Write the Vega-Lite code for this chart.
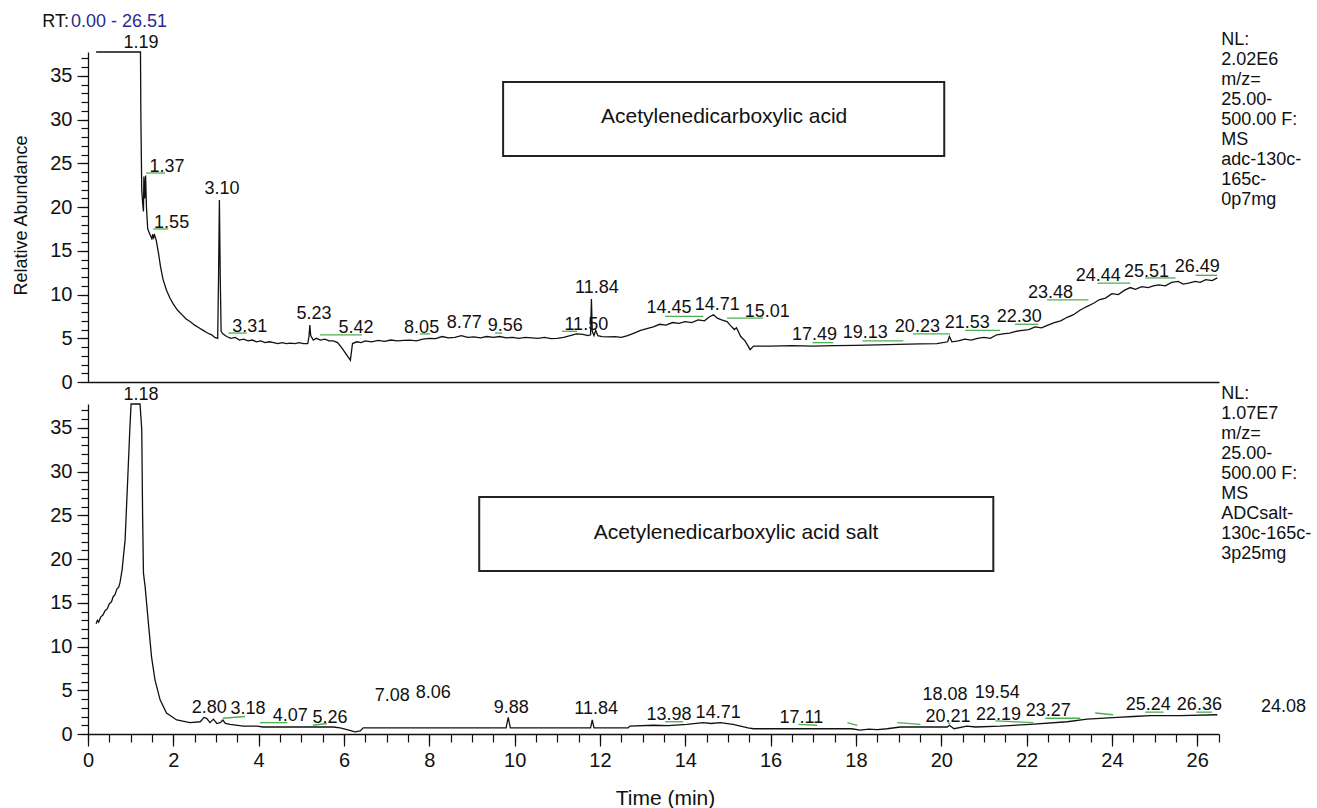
{
  "$schema": "https://vega.github.io/schema/vega-lite/v6.json",
  "autosize": {"type": "none"},
  "padding": {"left": 88, "top": 52, "right": 1229, "bottom": 756},
  "background": "white",
  "bounds": "flush",
  "spacing": 22,
  "config": {
    "view": {"stroke": null},
    "font": "Liberation Sans",
    "axis": {"domainColor": "#111", "tickColor": "#111", "labelColor": "#111", "titleColor": "#111", "domainWidth": 1.3, "tickWidth": 1.2, "labelFont": "Liberation Sans", "titleFont": "Liberation Sans", "labelFontSize": 20, "titleFontWeight": "normal", "grid": false, "labelOverlap": false, "labelFlush": false}
  },
  "datasets": {
    "acidTrace": [
      {"t": 0.19, "a": 37.74}, {"t": 1.23, "a": 37.74}, {"t": 1.24, "a": 30}, {"t": 1.26, "a": 22}, {"t": 1.28, "a": 20.5}, {"t": 1.30, "a": 19.5}, {"t": 1.31, "a": 23.5}, {"t": 1.33, "a": 21}, {"t": 1.35, "a": 23.6}, {"t": 1.37, "a": 20}, {"t": 1.40, "a": 17.5}, {"t": 1.44, "a": 17}, {"t": 1.48, "a": 16.6}, {"t": 1.50, "a": 16.3}, {"t": 1.52, "a": 16.9}, {"t": 1.54, "a": 16.5}, {"t": 1.56, "a": 16.8}, {"t": 1.60, "a": 16.2}, {"t": 1.65, "a": 14.8}, {"t": 1.70, "a": 13.2}, {"t": 1.76, "a": 11.7}, {"t": 1.84, "a": 10.5}, {"t": 1.92, "a": 9.6}, {"t": 2.0, "a": 8.9}, {"t": 2.1, "a": 8.2}, {"t": 2.2, "a": 7.7}, {"t": 2.3, "a": 7.2}, {"t": 2.4, "a": 6.9}, {"t": 2.5, "a": 6.5}, {"t": 2.6, "a": 6.2}, {"t": 2.7, "a": 5.9}, {"t": 2.8, "a": 5.6}, {"t": 2.9, "a": 5.4}, {"t": 2.97, "a": 5.1}, {"t": 3.04, "a": 5.0}, {"t": 3.06, "a": 12}, {"t": 3.08, "a": 20.8}, {"t": 3.10, "a": 12}, {"t": 3.12, "a": 5.8}, {"t": 3.16, "a": 5.5}, {"t": 3.25, "a": 5.2}, {"t": 3.35, "a": 5.0}, {"t": 3.45, "a": 5.1}, {"t": 3.55, "a": 4.8}, {"t": 3.65, "a": 4.9}, {"t": 3.75, "a": 4.7}, {"t": 3.85, "a": 4.8}, {"t": 3.95, "a": 4.6}, {"t": 4.05, "a": 4.7}, {"t": 4.15, "a": 4.5}, {"t": 4.25, "a": 4.6}, {"t": 4.35, "a": 4.5}, {"t": 4.45, "a": 4.4}, {"t": 4.55, "a": 4.5}, {"t": 4.65, "a": 4.4}, {"t": 4.75, "a": 4.45}, {"t": 4.85, "a": 4.4}, {"t": 4.95, "a": 4.5}, {"t": 5.05, "a": 4.4}, {"t": 5.15, "a": 4.4}, {"t": 5.18, "a": 5.2}, {"t": 5.20, "a": 6.5}, {"t": 5.22, "a": 5.3}, {"t": 5.28, "a": 4.8}, {"t": 5.35, "a": 5.0}, {"t": 5.45, "a": 4.8}, {"t": 5.55, "a": 4.9}, {"t": 5.65, "a": 4.7}, {"t": 5.75, "a": 4.7}, {"t": 5.85, "a": 4.5}, {"t": 5.95, "a": 3.9}, {"t": 6.05, "a": 3.2}, {"t": 6.15, "a": 2.5}, {"t": 6.2, "a": 4.4}, {"t": 6.3, "a": 4.6}, {"t": 6.4, "a": 4.5}, {"t": 6.5, "a": 4.7}, {"t": 6.65, "a": 4.6}, {"t": 6.8, "a": 4.75}, {"t": 6.95, "a": 4.65}, {"t": 7.1, "a": 4.8}, {"t": 7.25, "a": 4.7}, {"t": 7.4, "a": 4.75}, {"t": 7.55, "a": 4.8}, {"t": 7.7, "a": 4.7}, {"t": 7.85, "a": 4.9}, {"t": 8.0, "a": 5.0}, {"t": 8.15, "a": 4.95}, {"t": 8.3, "a": 5.2}, {"t": 8.45, "a": 5.05}, {"t": 8.6, "a": 5.1}, {"t": 8.75, "a": 5.3}, {"t": 8.9, "a": 5.1}, {"t": 9.05, "a": 5.15}, {"t": 9.2, "a": 5.05}, {"t": 9.35, "a": 5.2}, {"t": 9.5, "a": 5.1}, {"t": 9.65, "a": 5.2}, {"t": 9.8, "a": 5.05}, {"t": 9.95, "a": 5.1}, {"t": 10.1, "a": 5.0}, {"t": 10.25, "a": 5.1}, {"t": 10.4, "a": 5.05}, {"t": 10.55, "a": 5.0}, {"t": 10.7, "a": 5.1}, {"t": 10.85, "a": 4.95}, {"t": 11.0, "a": 5.0}, {"t": 11.15, "a": 5.1}, {"t": 11.3, "a": 5.3}, {"t": 11.45, "a": 5.5}, {"t": 11.6, "a": 5.45}, {"t": 11.72, "a": 5.3}, {"t": 11.78, "a": 5.4}, {"t": 11.8, "a": 9.5}, {"t": 11.82, "a": 5.8}, {"t": 11.86, "a": 5.3}, {"t": 11.9, "a": 5.9}, {"t": 11.95, "a": 5.3}, {"t": 12.05, "a": 5.2}, {"t": 12.2, "a": 5.15}, {"t": 12.35, "a": 5.2}, {"t": 12.5, "a": 5.1}, {"t": 12.65, "a": 5.3}, {"t": 12.8, "a": 5.6}, {"t": 12.95, "a": 5.9}, {"t": 13.1, "a": 6.1}, {"t": 13.25, "a": 6.3}, {"t": 13.4, "a": 6.6}, {"t": 13.55, "a": 6.5}, {"t": 13.7, "a": 6.8}, {"t": 13.85, "a": 6.7}, {"t": 14.0, "a": 6.9}, {"t": 14.15, "a": 6.8}, {"t": 14.3, "a": 7.1}, {"t": 14.45, "a": 7.0}, {"t": 14.55, "a": 7.4}, {"t": 14.66, "a": 7.7}, {"t": 14.75, "a": 7.3}, {"t": 14.85, "a": 7.1}, {"t": 14.98, "a": 6.9}, {"t": 15.05, "a": 6.5}, {"t": 15.15, "a": 6.0}, {"t": 15.2, "a": 6.2}, {"t": 15.3, "a": 5.2}, {"t": 15.4, "a": 4.7}, {"t": 15.45, "a": 4.3}, {"t": 15.52, "a": 3.7}, {"t": 15.6, "a": 4.1}, {"t": 16.0, "a": 4.1}, {"t": 16.5, "a": 4.15}, {"t": 17.0, "a": 4.1}, {"t": 17.5, "a": 4.15}, {"t": 18.0, "a": 4.2}, {"t": 18.5, "a": 4.25}, {"t": 19.0, "a": 4.3}, {"t": 19.5, "a": 4.35}, {"t": 19.9, "a": 4.4}, {"t": 20.15, "a": 4.6}, {"t": 20.19, "a": 5.2}, {"t": 20.25, "a": 4.6}, {"t": 20.4, "a": 4.7}, {"t": 20.55, "a": 4.9}, {"t": 20.7, "a": 4.8}, {"t": 20.85, "a": 5.0}, {"t": 21.0, "a": 5.1}, {"t": 21.15, "a": 5.0}, {"t": 21.3, "a": 5.4}, {"t": 21.45, "a": 5.5}, {"t": 21.6, "a": 5.6}, {"t": 21.75, "a": 5.8}, {"t": 21.9, "a": 5.9}, {"t": 22.05, "a": 6.0}, {"t": 22.2, "a": 6.3}, {"t": 22.35, "a": 6.2}, {"t": 22.5, "a": 6.5}, {"t": 22.65, "a": 6.8}, {"t": 22.8, "a": 7.0}, {"t": 22.95, "a": 7.4}, {"t": 23.1, "a": 7.7}, {"t": 23.25, "a": 8.2}, {"t": 23.4, "a": 8.6}, {"t": 23.57, "a": 9.0}, {"t": 23.7, "a": 9.4}, {"t": 23.85, "a": 9.6}, {"t": 24.0, "a": 10.1}, {"t": 24.15, "a": 10.0}, {"t": 24.3, "a": 10.5}, {"t": 24.43, "a": 10.8}, {"t": 24.55, "a": 10.6}, {"t": 24.7, "a": 10.9}, {"t": 24.85, "a": 10.8}, {"t": 24.97, "a": 11.0}, {"t": 25.1, "a": 11.1}, {"t": 25.25, "a": 11.0}, {"t": 25.4, "a": 11.4}, {"t": 25.55, "a": 11.5}, {"t": 25.67, "a": 11.2}, {"t": 25.8, "a": 11.3}, {"t": 25.95, "a": 11.5}, {"t": 26.07, "a": 11.4}, {"t": 26.2, "a": 11.7}, {"t": 26.35, "a": 11.6}, {"t": 26.47, "a": 11.9}
    ],
    "saltTrace": [
      {"t": 0.19, "a": 12.6}, {"t": 0.22, "a": 13.0}, {"t": 0.25, "a": 12.8}, {"t": 0.3, "a": 13.4}, {"t": 0.35, "a": 13.6}, {"t": 0.4, "a": 14.1}, {"t": 0.45, "a": 14.3}, {"t": 0.5, "a": 14.9}, {"t": 0.55, "a": 15.1}, {"t": 0.59, "a": 15.7}, {"t": 0.63, "a": 15.9}, {"t": 0.68, "a": 16.6}, {"t": 0.72, "a": 16.8}, {"t": 0.75, "a": 17.3}, {"t": 0.80, "a": 18.8}, {"t": 0.87, "a": 22.2}, {"t": 0.92, "a": 27.9}, {"t": 0.98, "a": 34.8}, {"t": 1.01, "a": 37.74}, {"t": 1.22, "a": 37.74}, {"t": 1.26, "a": 34.8}, {"t": 1.28, "a": 25}, {"t": 1.30, "a": 18.4}, {"t": 1.34, "a": 16.8}, {"t": 1.41, "a": 13.0}, {"t": 1.49, "a": 8.8}, {"t": 1.57, "a": 6.2}, {"t": 1.69, "a": 3.9}, {"t": 1.84, "a": 2.4}, {"t": 2.08, "a": 1.6}, {"t": 2.39, "a": 1.3}, {"t": 2.63, "a": 1.4}, {"t": 2.72, "a": 1.9}, {"t": 2.78, "a": 1.8}, {"t": 2.86, "a": 1.3}, {"t": 2.94, "a": 1.7}, {"t": 3.02, "a": 1.2}, {"t": 3.10, "a": 1.3}, {"t": 3.16, "a": 1.6}, {"t": 3.22, "a": 1.2}, {"t": 3.33, "a": 1.1}, {"t": 3.64, "a": 0.9}, {"t": 3.96, "a": 0.9}, {"t": 4.1, "a": 0.8}, {"t": 5.0, "a": 0.8}, {"t": 5.75, "a": 0.8}, {"t": 5.91, "a": 0.7}, {"t": 6.07, "a": 0.5}, {"t": 6.26, "a": 0.25}, {"t": 6.38, "a": 0.35}, {"t": 6.45, "a": 0.7}, {"t": 7.5, "a": 0.7}, {"t": 8.5, "a": 0.7}, {"t": 9.8, "a": 0.7}, {"t": 9.85, "a": 1.9}, {"t": 9.9, "a": 0.7}, {"t": 11.78, "a": 0.7}, {"t": 11.82, "a": 1.6}, {"t": 11.86, "a": 0.7}, {"t": 12.66, "a": 0.7}, {"t": 12.7, "a": 0.9}, {"t": 13.25, "a": 1.0}, {"t": 13.6, "a": 0.95}, {"t": 14.04, "a": 1.1}, {"t": 14.42, "a": 1.3}, {"t": 14.6, "a": 1.2}, {"t": 14.82, "a": 1.3}, {"t": 15.12, "a": 1.1}, {"t": 15.47, "a": 0.7}, {"t": 15.6, "a": 0.6}, {"t": 17.9, "a": 0.6}, {"t": 18.1, "a": 0.45}, {"t": 18.3, "a": 0.55}, {"t": 18.5, "a": 0.5}, {"t": 18.73, "a": 0.6}, {"t": 19.04, "a": 0.8}, {"t": 20.14, "a": 0.8}, {"t": 20.19, "a": 1.0}, {"t": 20.3, "a": 0.6}, {"t": 20.6, "a": 0.9}, {"t": 20.8, "a": 0.8}, {"t": 21.38, "a": 0.9}, {"t": 22.09, "a": 1.1}, {"t": 22.95, "a": 1.4}, {"t": 23.42, "a": 1.7}, {"t": 24.13, "a": 1.9}, {"t": 24.5, "a": 2.0}, {"t": 24.9, "a": 2.1}, {"t": 25.6, "a": 2.1}, {"t": 26.47, "a": 2.2}
    ],
    "acidPeaks": [
      {"t": 1.24, "a": 38.2, "lab": "1.19"}, {"t": 1.85, "a": 24.0, "lab": "1.37"}, {"t": 3.14, "a": 21.5, "lab": "3.10"}, {"t": 1.96, "a": 17.6, "lab": "1.55"}, {"t": 3.79, "a": 5.7, "lab": "3.31"}, {"t": 5.30, "a": 7.2, "lab": "5.23"}, {"t": 6.28, "a": 5.6, "lab": "5.42"}, {"t": 7.82, "a": 5.6, "lab": "8.05"}, {"t": 8.82, "a": 6.2, "lab": "8.77"}, {"t": 9.78, "a": 5.8, "lab": "9.56"}, {"t": 11.68, "a": 6.0, "lab": "11.50"}, {"t": 11.93, "a": 10.2, "lab": "11.84"}, {"t": 13.62, "a": 7.9, "lab": "14.45"}, {"t": 14.75, "a": 8.2, "lab": "14.71"}, {"t": 15.92, "a": 7.4, "lab": "15.01"}, {"t": 17.03, "a": 4.8, "lab": "17.49"}, {"t": 18.22, "a": 5.0, "lab": "19.13"}, {"t": 19.44, "a": 5.7, "lab": "20.23"}, {"t": 20.61, "a": 6.2, "lab": "21.53"}, {"t": 21.83, "a": 6.9, "lab": "22.30"}, {"t": 22.56, "a": 9.6, "lab": "23.48"}, {"t": 23.68, "a": 11.6, "lab": "24.44"}, {"t": 24.81, "a": 12.0, "lab": "25.51"}, {"t": 26.0, "a": 12.6, "lab": "26.49"}
    ],
    "saltPeaks": [
      {"t": 1.24, "a": 38.2, "lab": "1.18"}, {"t": 2.84, "a": 2.4, "lab": "2.80"}, {"t": 3.75, "a": 2.3, "lab": "3.18"}, {"t": 4.74, "a": 1.5, "lab": "4.07"}, {"t": 5.67, "a": 1.3, "lab": "5.26"}, {"t": 7.13, "a": 3.8, "lab": "7.08"}, {"t": 8.09, "a": 4.1, "lab": "8.06"}, {"t": 9.92, "a": 2.4, "lab": "9.88"}, {"t": 11.91, "a": 2.3, "lab": "11.84"}, {"t": 13.62, "a": 1.6, "lab": "13.98"}, {"t": 14.77, "a": 1.8, "lab": "14.71"}, {"t": 16.72, "a": 1.3, "lab": "17.11"}, {"t": 20.09, "a": 3.9, "lab": "18.08"}, {"t": 21.31, "a": 4.1, "lab": "19.54"}, {"t": 20.16, "a": 1.4, "lab": "20.21"}, {"t": 21.34, "a": 1.6, "lab": "22.19"}, {"t": 22.51, "a": 2.1, "lab": "23.27"}, {"t": 24.85, "a": 2.7, "lab": "25.24"}, {"t": 26.05, "a": 2.7, "lab": "26.36"}, {"t": 28.02, "a": 2.5, "lab": "24.08"}
    ],
    "acidBase": [
      {"t": 1.36, "t2": 1.81, "a": 23.9, "a2": 23.9}, {"t": 1.53, "t2": 1.88, "a": 17.5, "a2": 17.5}, {"t": 3.29, "t2": 3.72, "a": 5.6, "a2": 5.6}, {"t": 5.44, "t2": 6.42, "a": 5.4, "a2": 5.4}, {"t": 7.78, "t2": 8.02, "a": 5.5, "a2": 5.5}, {"t": 9.54, "t2": 9.71, "a": 5.6, "a2": 5.6}, {"t": 11.11, "t2": 11.46, "a": 5.8, "a2": 5.8}, {"t": 13.53, "t2": 14.42, "a": 7.5, "a2": 7.5}, {"t": 14.98, "t2": 15.83, "a": 7.3, "a2": 7.3}, {"t": 16.98, "t2": 17.47, "a": 4.5, "a2": 4.5}, {"t": 18.15, "t2": 19.11, "a": 4.7, "a2": 4.7}, {"t": 19.34, "t2": 20.21, "a": 5.5, "a2": 5.5}, {"t": 20.56, "t2": 21.38, "a": 5.9, "a2": 5.9}, {"t": 21.73, "t2": 22.27, "a": 6.6, "a2": 6.6}, {"t": 22.48, "t2": 23.45, "a": 9.4, "a2": 9.4}, {"t": 23.66, "t2": 24.43, "a": 11.3, "a2": 11.3}, {"t": 24.78, "t2": 25.49, "a": 11.9, "a2": 11.9}, {"t": 25.96, "t2": 26.47, "a": 12.2, "a2": 12.2}
    ],
    "saltBase": [
      {"t": 3.16, "t2": 3.68, "a": 1.8, "a2": 2.0}, {"t": 4.03, "t2": 4.67, "a": 1.3, "a2": 1.3}, {"t": 5.27, "t2": 5.60, "a": 1.0, "a2": 1.2}, {"t": 13.53, "t2": 13.95, "a": 1.4, "a2": 1.4}, {"t": 16.65, "t2": 17.09, "a": 1.1, "a2": 1.0}, {"t": 17.80, "t2": 18.03, "a": 1.3, "a2": 1.0}, {"t": 18.97, "t2": 19.51, "a": 1.3, "a2": 1.1}, {"t": 20.15, "t2": 20.22, "a": 1.3, "a2": 1.2}, {"t": 21.27, "t2": 22.16, "a": 1.5, "a2": 1.3}, {"t": 22.44, "t2": 23.26, "a": 1.8, "a2": 1.8}, {"t": 23.61, "t2": 24.03, "a": 2.4, "a2": 2.2}, {"t": 24.78, "t2": 25.21, "a": 2.5, "a2": 2.5}, {"t": 25.98, "t2": 26.35, "a": 2.5, "a2": 2.5}
    ]
  },
  "vconcat": [
    {
      "width": 1131,
      "height": 330,
      "resolve": {"axis": {"y": "independent"}},
      "layer": [
        {
          "data": {"name": "acidTrace"},
          "mark": {"type": "line", "color": "#111", "strokeWidth": 1.3},
          "encoding": {
            "x": {"field": "t", "type": "quantitative", "scale": {"domain": [0, 26.51], "nice": false, "zero": false},
                  "axis": {"labels": false, "ticks": false, "title": null, "domain": true}},
            "y": {"field": "a", "type": "quantitative", "scale": {"domain": [0, 37.74], "nice": false, "zero": false},
                  "axis": {"orient": "left", "values": [0, 5, 10, 15, 20, 25, 30, 35], "tickSize": 11, "labelPadding": 5,
                           "title": "Relative Abundance", "titleFontSize": 18, "titleX": -67, "titleY": 163, "titleAngle": -90, "titleAlign": "center", "titleBaseline": "middle"}}
          }
        },
        {
          "data": {"name": "acidBase"},
          "mark": {"type": "rule", "color": "#4caf50", "strokeWidth": 1.3},
          "encoding": {
            "x": {"field": "t", "type": "quantitative"}, "x2": {"field": "t2"},
            "y": {"field": "a", "type": "quantitative",
                  "axis": {"orient": "left", "values": [0,1,2,3,4,5,6,7,8,9,10,11,12,13,14,15,16,17,18,19,20,21,22,23,24,25,26,27,28,29,30,31,32,33,34,35,36,37], "tickSize": 7, "labels": false, "domain": false, "title": null}},
            "y2": {"field": "a2"}
          }
        },
        {
          "data": {"name": "acidPeaks"},
          "mark": {"type": "text", "align": "center", "baseline": "alphabetic", "fontSize": 18, "color": "#111", "font": "Liberation Sans"},
          "encoding": {
            "x": {"field": "t", "type": "quantitative"},
            "y": {"field": "a", "type": "quantitative", "axis": null},
            "text": {"field": "lab"}
          }
        },
        {
          "data": {"values": [{}]},
          "mark": {"type": "rect", "fill": "white", "stroke": "#222", "strokeWidth": 2},
          "encoding": {
            "x": {"datum": 9.73}, "x2": {"datum": 20.07},
            "y": {"datum": 34.31, "axis": null}, "y2": {"datum": 25.85}
          }
        },
        {
          "data": {"values": [{}]},
          "mark": {"type": "text", "align": "center", "baseline": "middle", "fontSize": 21, "color": "#111", "font": "Liberation Sans"},
          "encoding": {
            "x": {"datum": 14.91}, "y": {"datum": 30.31, "axis": null},
            "text": {"value": "Acetylenedicarboxylic acid"}
          }
        },
        {
          "data": {"values": [{}]},
          "mark": {"type": "text", "align": "left", "baseline": "top", "fontSize": 18, "lineHeight": 20, "color": "#111", "font": "Liberation Sans"},
          "encoding": {
            "x": {"datum": 26.56}, "y": {"datum": 40.1, "axis": null},
            "text": {"value": ["NL:", "2.02E6", "m/z=", "25.00-", "500.00 F:", "MS", "adc-130c-", "165c-", "0p7mg"]}
          }
        },
        {
          "data": {"values": [{}]},
          "mark": {"type": "text", "align": "right", "baseline": "alphabetic", "fontSize": 18, "color": "#111", "font": "Liberation Sans"},
          "encoding": {
            "x": {"datum": -0.445}, "y": {"datum": 40.6, "axis": null},
            "text": {"value": "RT:"}
          }
        },
        {
          "data": {"values": [{}]},
          "mark": {"type": "text", "align": "left", "baseline": "alphabetic", "fontSize": 18, "color": "#2a2a8f", "font": "Liberation Sans"},
          "encoding": {
            "x": {"datum": -0.40}, "y": {"datum": 40.6, "axis": null},
            "text": {"value": "0.00 - 26.51"}
          }
        }
      ]
    },
    {
      "width": 1131,
      "height": 330,
      "resolve": {"axis": {"x": "independent", "y": "independent"}},
      "layer": [
        {
          "data": {"name": "saltTrace"},
          "mark": {"type": "line", "color": "#111", "strokeWidth": 1.3},
          "encoding": {
            "x": {"field": "t", "type": "quantitative", "scale": {"domain": [0, 26.51], "nice": false, "zero": false},
                  "axis": {"orient": "bottom", "values": [0, 2, 4, 6, 8, 10, 12, 14, 16, 18, 20, 22, 24, 26], "tickSize": 12, "labelPadding": 4,
                           "title": "Time (min)", "titleFontSize": 21, "titleX": 577, "titleY": 64, "titleAlign": "center", "titleBaseline": "middle"}},
            "y": {"field": "a", "type": "quantitative", "scale": {"domain": [0, 37.74], "nice": false, "zero": false},
                  "axis": {"orient": "left", "values": [0, 5, 10, 15, 20, 25, 30, 35], "tickSize": 11, "labelPadding": 5, "title": null}}
          }
        },
        {
          "data": {"name": "saltBase"},
          "mark": {"type": "rule", "color": "#4caf50", "strokeWidth": 1.3},
          "encoding": {
            "x": {"field": "t", "type": "quantitative",
                  "axis": {"orient": "bottom", "values": [0,0.5,1,1.5,2,2.5,3,3.5,4,4.5,5,5.5,6,6.5,7,7.5,8,8.5,9,9.5,10,10.5,11,11.5,12,12.5,13,13.5,14,14.5,15,15.5,16,16.5,17,17.5,18,18.5,19,19.5,20,20.5,21,21.5,22,22.5,23,23.5,24,24.5,25,25.5,26,26.5], "tickSize": 8, "labels": false, "domain": false, "title": null}},
            "x2": {"field": "t2"},
            "y": {"field": "a", "type": "quantitative",
                  "axis": {"orient": "left", "values": [0,1,2,3,4,5,6,7,8,9,10,11,12,13,14,15,16,17,18,19,20,21,22,23,24,25,26,27,28,29,30,31,32,33,34,35,36,37], "tickSize": 7, "labels": false, "domain": false, "title": null}},
            "y2": {"field": "a2"}
          }
        },
        {
          "data": {"name": "saltPeaks"},
          "mark": {"type": "text", "align": "center", "baseline": "alphabetic", "fontSize": 18, "color": "#111", "font": "Liberation Sans"},
          "encoding": {
            "x": {"field": "t", "type": "quantitative", "axis": null},
            "y": {"field": "a", "type": "quantitative", "axis": null},
            "text": {"field": "lab"}
          }
        },
        {
          "data": {"values": [{}]},
          "mark": {"type": "rect", "fill": "white", "stroke": "#222", "strokeWidth": 2},
          "encoding": {
            "x": {"datum": 9.17, "axis": null}, "x2": {"datum": 21.22},
            "y": {"datum": 27.11, "axis": null}, "y2": {"datum": 18.64}
          }
        },
        {
          "data": {"values": [{}]},
          "mark": {"type": "text", "align": "center", "baseline": "middle", "fontSize": 21, "color": "#111", "font": "Liberation Sans"},
          "encoding": {
            "x": {"datum": 15.19, "axis": null}, "y": {"datum": 22.99, "axis": null},
            "text": {"value": "Acetylenedicarboxylic acid salt"}
          }
        },
        {
          "data": {"values": [{}]},
          "mark": {"type": "text", "align": "left", "baseline": "top", "fontSize": 18, "lineHeight": 20, "color": "#111", "font": "Liberation Sans"},
          "encoding": {
            "x": {"datum": 26.56, "axis": null}, "y": {"datum": 39.9, "axis": null},
            "text": {"value": ["NL:", "1.07E7", "m/z=", "25.00-", "500.00 F:", "MS", "ADCsalt-", "130c-165c-", "3p25mg"]}
          }
        }
      ]
    }
  ]
}
